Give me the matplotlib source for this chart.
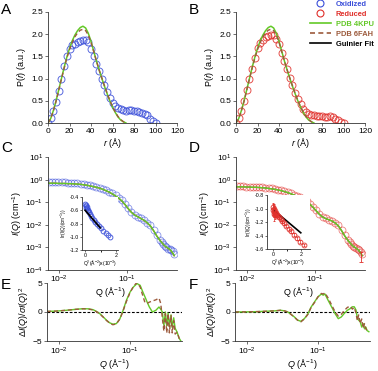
# SAXS P(r), I(Q) and residual panels for oxidized / reduced protein
import numpy as np
import matplotlib
matplotlib.use("Agg")
import matplotlib.pyplot as plt
from matplotlib.lines import Line2D
from matplotlib.ticker import NullLocator, FormatStrFormatter

plt.rcParams["font.family"] = ["Liberation Sans", "DejaVu Sans"]
plt.rcParams["mathtext.fontset"] = "custom"
plt.rcParams["mathtext.rm"] = "Liberation Sans"
plt.rcParams["mathtext.it"] = "Liberation Sans:italic"
plt.rcParams["mathtext.bf"] = "Liberation Sans:bold"

BLUE = "#3b4fd9"
RED = "#e0302b"
GREEN = "#63c927"
BROWN = "#9c5a3c"

# ---- P(r) data ----
r_data = [0, 2.5, 5, 7.5, 10, 12.5, 15, 17.5, 20, 22.5, 25, 27.5, 30, 32.5, 35, 37.5, 40,
          42.5, 45, 47.5, 50, 52.5, 55, 57.5, 60, 62.5, 65, 67.5, 70, 72.5, 75, 77.5, 80,
          82.5, 85, 87.5, 90, 92.5, 95, 97.5, 100]
pr_ox = [0.0, 0.12, 0.26, 0.48, 0.72, 1.0, 1.28, 1.52, 1.66, 1.75, 1.79, 1.82, 1.85, 1.88,
         1.88, 1.82, 1.66, 1.5, 1.32, 1.16, 1.0, 0.85, 0.7, 0.56, 0.44, 0.38, 0.34, 0.31,
         0.29, 0.28, 0.29, 0.29, 0.28, 0.26, 0.25, 0.23, 0.2, 0.17, 0.1, 0.05, 0.0]
pr_red = [0.0, 0.12, 0.28, 0.5, 0.74, 0.98, 1.22, 1.47, 1.68, 1.8, 1.88, 1.93, 1.97, 1.99,
          1.98, 1.9, 1.78, 1.58, 1.4, 1.21, 1.02, 0.85, 0.68, 0.55, 0.43, 0.32, 0.24, 0.2,
          0.18, 0.17, 0.16, 0.15, 0.15, 0.14, 0.14, 0.15, 0.13, 0.1, 0.07, 0.03, 0.0]
r_model = [0, 2.5, 5, 7.5, 10, 12.5, 15, 17.5, 20, 22.5, 25, 27.5, 30, 32.5, 35, 37.5, 40,
           42.5, 45, 47.5, 50, 52.5, 55, 57.5, 60, 62.5, 65, 67.5, 70, 72.5]
pr_4kpu = [0, 0.1, 0.28, 0.5, 0.75, 1.0, 1.25, 1.48, 1.68, 1.85, 1.98, 2.08, 2.15, 2.18,
           2.14, 2.02, 1.84, 1.62, 1.4, 1.2, 1.01, 0.83, 0.66, 0.5, 0.36, 0.24, 0.14, 0.07,
           0.03, 0.0]
pr_6fah = [0, 0.1, 0.27, 0.49, 0.74, 0.99, 1.23, 1.46, 1.65, 1.81, 1.94, 2.03, 2.09, 2.11,
           2.08, 1.98, 1.82, 1.61, 1.4, 1.2, 1.02, 0.84, 0.67, 0.51, 0.37, 0.25, 0.15, 0.08,
           0.03, 0.0]

# ---- I(Q) data (log10 values) ----
q_iq = [0.0070, 0.0078, 0.0087, 0.0097, 0.0108, 0.0120, 0.0134, 0.0149, 0.0166, 0.0185,
        0.0206, 0.0230, 0.0256, 0.0285, 0.0318, 0.0354, 0.0395, 0.0440, 0.0490, 0.0546,
        0.0608, 0.0678, 0.0755, 0.0842, 0.0938, 0.1045, 0.1165, 0.1298, 0.1446, 0.1612,
        0.1796, 0.2001, 0.2230, 0.2485, 0.2769, 0.3086, 0.3300, 0.3439, 0.3600, 0.3832,
        0.4050, 0.4270, 0.4500, 0.4760, 0.5000]
logi_ox = [-0.10, -0.10, -0.11, -0.11, -0.12, -0.12, -0.13, -0.14, -0.15, -0.16, -0.18,
           -0.20, -0.22, -0.25, -0.28, -0.32, -0.36, -0.41, -0.47, -0.53, -0.61, -0.70,
           -0.80, -0.92, -1.07, -1.24, -1.42, -1.56, -1.65, -1.72, -1.80, -1.90, -2.03,
           -2.22, -2.45, -2.66, -2.78, -2.85, -2.93, -3.00, -3.05, -3.08, -3.10, -3.18, -3.28]
logi_ox_4kpu = [-0.16, -0.16, -0.16, -0.17, -0.17, -0.17, -0.18, -0.18, -0.19, -0.20, -0.21,
                -0.23, -0.25, -0.28, -0.31, -0.34, -0.38, -0.43, -0.49, -0.55, -0.63, -0.72,
                -0.82, -0.94, -1.10, -1.28, -1.45, -1.57, -1.65, -1.72, -1.80, -1.91, -2.05,
                -2.26, -2.50, -2.70, -2.80, -2.86, -2.92, -2.98, -3.03, -3.08, -3.15, -3.25,
                -3.36]
logi_ox_6fah = [-0.16, -0.16, -0.16, -0.17, -0.17, -0.17, -0.18, -0.18, -0.19, -0.20, -0.21,
                -0.23, -0.25, -0.28, -0.31, -0.34, -0.38, -0.43, -0.49, -0.56, -0.64, -0.73,
                -0.83, -0.95, -1.11, -1.29, -1.45, -1.56, -1.64, -1.72, -1.81, -1.92, -2.06,
                -2.27, -2.50, -2.69, -2.79, -2.86, -2.93, -2.99, -3.04, -3.09, -3.16, -3.26,
                -3.37]
logi_red = [-0.30, -0.30, -0.30, -0.31, -0.31, -0.32, -0.32, -0.33, -0.34, -0.35, -0.37,
            -0.39, -0.41, -0.44, -0.47, -0.51, -0.55, -0.60, -0.66, -0.72, -0.79, -0.87,
            -0.96, -1.07, -1.20, -1.36, -1.52, -1.64, -1.72, -1.77, -1.82, -1.91, -2.03,
            -2.22, -2.45, -2.66, -2.78, -2.85, -2.92, -2.98, -3.03, -3.08, -3.12, -3.20, -3.30]
logi_red_4kpu = [-0.32, -0.32, -0.32, -0.33, -0.33, -0.34, -0.34, -0.35, -0.36, -0.37, -0.39,
                 -0.41, -0.43, -0.46, -0.49, -0.53, -0.57, -0.62, -0.68, -0.74, -0.81, -0.89,
                 -0.98, -1.09, -1.22, -1.38, -1.54, -1.66, -1.73, -1.78, -1.83, -1.92, -2.05,
                 -2.26, -2.50, -2.70, -2.80, -2.86, -2.92, -2.98, -3.03, -3.08, -3.15, -3.25,
                 -3.36]
logi_red_6fah = [-0.32, -0.32, -0.32, -0.33, -0.33, -0.34, -0.34, -0.35, -0.36, -0.37, -0.39,
                 -0.41, -0.43, -0.46, -0.49, -0.53, -0.58, -0.63, -0.69, -0.75, -0.82, -0.90,
                 -0.99, -1.10, -1.23, -1.39, -1.54, -1.65, -1.72, -1.78, -1.84, -1.93, -2.06,
                 -2.27, -2.50, -2.69, -2.79, -2.86, -2.93, -2.99, -3.04, -3.09, -3.16, -3.26,
                 -3.37]

# ---- Guinier insets ----
q2_ox = [0.02, 0.04, 0.06, 0.08, 0.10, 0.13, 0.16, 0.20, 0.24, 0.30, 0.38, 0.46, 0.56,
         0.66, 0.78, 0.90, 1.04, 1.18, 1.33, 1.48, 1.64]
ln_ox = [-0.50, -0.53, -0.52, -0.56, -0.55, -0.58, -0.60, -0.61, -0.63, -0.65, -0.68,
         -0.71, -0.74, -0.77, -0.80, -0.84, -0.87, -0.91, -0.95, -0.98, -1.01]
q2_ox_fit = [0.0, 0.98]
ln_ox_fit = [-0.60, -0.865]
q2_red = [0.02, 0.04, 0.06, 0.08, 0.10, 0.13, 0.16, 0.20, 0.25, 0.31, 0.38, 0.47, 0.57,
          0.69, 0.82, 0.97, 1.13, 1.31, 1.51, 1.73, 1.96, 2.20]
ln_red = [-0.98, -1.02, -1.08, -1.00, -1.05, -1.10, -1.04, -1.08, -1.07, -1.09, -1.11,
          -1.13, -1.16, -1.19, -1.22, -1.26, -1.30, -1.34, -1.39, -1.44, -1.49, -1.54]
ln_red_err = [0.06, 0.08, 0.1, 0.07, 0.08, 0.06, 0.05, 0.04, 0.03, 0.02, 0.02, 0.02, 0.02,
              0.02, 0.02, 0.02, 0.02, 0.02, 0.02, 0.02, 0.02, 0.02]
q2_red_fit = [0.1, 2.0]
ln_red_fit = [-1.03, -1.36]

# ---- residuals ----
q_res_e = [0.0068, 0.009, 0.0129, 0.017, 0.022, 0.026, 0.0305, 0.034, 0.038, 0.042, 0.047,
           0.052, 0.058, 0.065, 0.073, 0.081, 0.09, 0.101, 0.113, 0.127, 0.141, 0.152, 0.165,
           0.177, 0.19, 0.21, 0.235, 0.26, 0.275, 0.29, 0.305, 0.32, 0.335, 0.35, 0.365,
           0.385, 0.40, 0.42, 0.44, 0.47, 0.50, 0.53]
res_ox_4kpu = [0.1, 0.15, 0.3, 0.45, 0.57, 0.55, 0.4, 0.1, -0.3, -0.8, -1.4, -1.85, -2.1,
               -2.0, -1.15, 0.3, 2.0, 3.4, 4.3, 4.9, 4.6, 3.6, 2.6, 1.7, 0.86, 0.0, 0.3, 0.86,
               0.5, 0.0, -2.3, 0.0, -2.4, -0.2, -2.4, -0.5, -2.7, -1.0, -2.8, -3.5, -4.5, -5.0]
res_ox_6fah = [0.1, 0.15, 0.3, 0.45, 0.55, 0.52, 0.35, 0.05, -0.35, -0.85, -1.45, -1.9,
               -2.2, -2.05, -1.2, 0.2, 1.8, 3.3, 4.4, 5.1, 4.3, 3.0, 1.6, 1.5, 1.7, 1.9, 2.1,
               2.4, 1.5, -1.0, -3.3, -0.3, -3.6, -0.3, -3.6, -0.6, -3.6, -1.5, -3.8, -3.5,
               -4.5, -5.0]
q_res_f = [0.0068, 0.009, 0.0129, 0.018, 0.025, 0.03, 0.034, 0.038, 0.042, 0.047, 0.052,
           0.058, 0.065, 0.073, 0.081, 0.09, 0.101, 0.113, 0.12, 0.127, 0.141, 0.158, 0.177,
           0.196, 0.216, 0.236, 0.264, 0.29, 0.31, 0.33, 0.35, 0.365, 0.38, 0.40, 0.42,
           0.44, 0.46, 0.48, 0.50, 0.53]
res_red_4kpu = [0.0, 0.02, 0.05, 0.12, 0.2, 0.3, 0.2, 0.0, -0.4, -0.86, -1.4, -1.6, -1.15,
                -0.3, 0.86, 1.7, 2.6, 3.1, 2.9, 3.1, 2.0, 0.86, -0.3, -1.15, -0.86, -0.3,
                0.3, 0.6, 0.9, 0.9, 0.3, -1.15, -1.4, -1.7, -2.6, -2.0, -2.9, -2.6, -3.2,
                -3.4]
res_red_6fah = [0.0, 0.02, 0.05, 0.12, 0.2, 0.3, 0.2, 0.0, -0.4, -0.9, -1.4, -1.7, -1.2,
                -0.4, 0.8, 1.6, 2.6, 3.2, 3.1, 3.3, 2.4, 1.2, 0.0, -0.7, -0.4, 0.2, 0.8, 1.0,
                0.5, 0.8, -0.3, -1.5, -0.5, -2.0, -1.2, -2.8, -2.0, -2.9, -3.2, -3.4]

W, H = 378.0, 371.0
TICK_FS = 6
LABEL_FS = 6.5


def px_axes(left, top, right, bottom):
    return fig.add_axes([left / W, 1 - bottom / H, (right - left) / W, (bottom - top) / H])


def style(ax, fs=TICK_FS):
    for s in ["top", "right"]:
        ax.spines[s].set_visible(False)
    for s in ["left", "bottom"]:
        ax.spines[s].set_linewidth(0.6)
        ax.spines[s].set_color("#333333")
    ax.tick_params(labelsize=fs, length=2, width=0.5, pad=1.5, color="#333333")


fig = plt.figure(figsize=(W / 100, H / 100), dpi=100)

# ---- A / B : P(r) ----
for left, pr, col, letter in [(48, pr_ox, BLUE, "A"), (236, pr_red, RED, "B")]:
    ax = px_axes(left, 12, left + 129, 123)
    ax.plot(r_data, pr, "o", mfc="none", mec=col, ms=5, mew=0.7, alpha=0.85)
    ax.plot(r_model, pr_4kpu, color=GREEN, lw=1.1)
    ax.plot(r_model, pr_6fah, "--", color=BROWN, lw=1.0, dashes=(3, 2))
    ax.set_xlim(0, 120)
    ax.set_ylim(0, 2.5)
    ax.set_xticks(range(0, 121, 20))
    ax.set_yticks([0, 0.5, 1.0, 1.5, 2.0, 2.5])
    ax.yaxis.set_major_formatter(FormatStrFormatter("%.1f"))
    style(ax)
    ax.set_ylabel("P($r$) (a.u.)", fontsize=LABEL_FS, labelpad=2)
    ax.set_xlabel("$r$ (Å)", fontsize=LABEL_FS, labelpad=1)
    fig.text((left - 47) / W, 1 - 3 / H, letter, fontsize=11, va="top")
    if letter == "B":
        handles = [
            Line2D([], [], ls="none", marker="o", mfc="none", mec=BLUE, ms=5, mew=0.8),
            Line2D([], [], ls="none", marker="o", mfc="none", mec=RED, ms=5, mew=0.8),
            Line2D([], [], color=GREEN, lw=1.2),
            Line2D([], [], color=BROWN, lw=1.2, ls="--", dashes=(3, 2)),
            Line2D([], [], color="black", lw=1.2),
        ]
        labels = ["Oxidized", "Reduced", "PDB 4KPU", "PDB 6FAH", "Guinier Fit"]
        leg = fig.legend(handles, labels, loc="upper left", bbox_to_anchor=(309 / W, 1.0),
                         frameon=False, handlelength=2.8, handletextpad=0.7,
                         labelspacing=0.35, borderpad=0.1, borderaxespad=0,
                         prop={"weight": "bold", "size": 5.4})
        for t, c in zip(leg.get_texts(), [BLUE, RED, GREEN, BROWN, "black"]):
            t.set_color(c)

# ---- C / D : I(Q) ----
iq_sets = [
    (48, logi_ox, logi_ox_4kpu, logi_ox_6fah, BLUE, "C"),
    (236, logi_red, logi_red_4kpu, logi_red_6fah, RED, "D"),
]
for left, li, l4, l6, col, letter in iq_sets:
    ax = px_axes(left, 157, left + 129, 270)
    ax.set_xscale("log")
    ax.set_yscale("log")
    ax.plot(q_iq, 10 ** np.array(li), "o", mfc="none", mec=col, ms=5, mew=0.6, alpha=0.6)
    ax.plot(q_iq, 10 ** np.array(l6), color=BROWN, lw=1.0)
    ax.plot(q_iq, 10 ** np.array(l4), color=GREEN, lw=1.0)
    ax.set_xlim(0.0068, 0.55)
    ax.set_ylim(1e-4, 1e1)
    ax.set_xticks([1e-2, 1e-1])
    ax.set_yticks([1e-4, 1e-3, 1e-2, 1e-1, 1e0, 1e1])
    ax.xaxis.set_minor_locator(NullLocator())
    ax.yaxis.set_minor_locator(NullLocator())
    style(ax)
    ax.tick_params(axis="x", pad=1)
    ax.set_ylabel("$I(Q)$ (cm$^{-1}$)", fontsize=LABEL_FS, labelpad=1)
    fig.text((left + 62) / W, 1 - 292 / H, "Q (Å$^{-1}$)", fontsize=LABEL_FS,
             ha="center", va="center")
    fig.text((left - 47) / W, 1 - 141 / H, letter, fontsize=11, va="top")
    if letter == "D":
        ax.errorbar([q_iq[-2]], [10 ** li[-2]], yerr=[[4e-4], [0]], fmt="none",
                    ecolor=col, elinewidth=0.6, capsize=1.5, capthick=0.6)

# ---- insets ----
ins_c = px_axes(82, 197, 118, 250)
ins_c.plot(q2_ox, ln_ox, "o", mfc="none", mec=BLUE, ms=3.5, mew=0.6)
ins_c.plot(q2_ox_fit, ln_ox_fit, color="black", lw=1.2)
ins_c.set_xlim(-0.2, 2.13)
ins_c.set_ylim(-1.2, -0.4)
ins_c.set_yticks([-1.2, -1.0, -0.8, -0.6, -0.4])
ins_d = px_axes(267, 195, 310, 249)
ins_d.errorbar(q2_red, ln_red, yerr=ln_red_err, fmt="o", mfc="none", mec=RED, ms=3.5,
               mew=0.6, ecolor=RED, elinewidth=0.5, capsize=1, capthick=0.5)
ins_d.plot(q2_red_fit, ln_red_fit, color="black", lw=1.2)
ins_d.set_xlim(-0.42, 2.66)
ins_d.set_ylim(-1.6, -0.8)
ins_d.set_yticks([-1.6, -1.4, -1.2, -1.0, -0.8])
for ins in [ins_c, ins_d]:
    ins.set_xticks([0, 2])
    ins.set_xticks([1], minor=True)
    ins.yaxis.set_major_formatter(FormatStrFormatter("%.1f"))
    style(ins, fs=3.8)
    ins.tick_params(which="both", length=1.2, pad=1)
    ins.set_ylabel("ln(I(Q)(cm$^{-1}$))", fontsize=3.3, labelpad=0.5)
    ins.set_xlabel("Q$^2$(Å$^{-2}$)x(10$^{-3}$)", fontsize=3.6, labelpad=0.5)

# ---- E / F : residuals ----
res_sets = [
    (47, q_res_e, res_ox_4kpu, res_ox_6fah, "E"),
    (235, q_res_f, res_red_4kpu, res_red_6fah, "F"),
]
for left, qq, r4, r6, letter in res_sets:
    ax = px_axes(left, 283, left + 135, 341)
    ax.set_xscale("log")
    ax.axhline(0, color="black", lw=0.8, ls="--", dashes=(2.5, 1.5))
    ax.plot(qq, r4, color=GREEN, lw=1.0)
    ax.plot(qq, r6, "--", color=BROWN, lw=1.0, dashes=(3, 2))
    ax.set_xlim(0.0068, 0.55)
    ax.set_ylim(-5, 5)
    ax.set_yticks([-5, 0, 5])
    ax.set_xticks([1e-2, 1e-1])
    ax.xaxis.set_minor_locator(NullLocator())
    style(ax)
    ax.set_ylabel("$\\Delta I(Q)/\\sigma I(Q)^2$", fontsize=LABEL_FS, labelpad=1)
    ax.set_xlabel("$Q$ (Å$^{-1}$)", fontsize=LABEL_FS, labelpad=0)
    fig.text((left - 46) / W, 1 - 278 / H, letter, fontsize=11, va="top")

fig.savefig("out.png", dpi=100)
